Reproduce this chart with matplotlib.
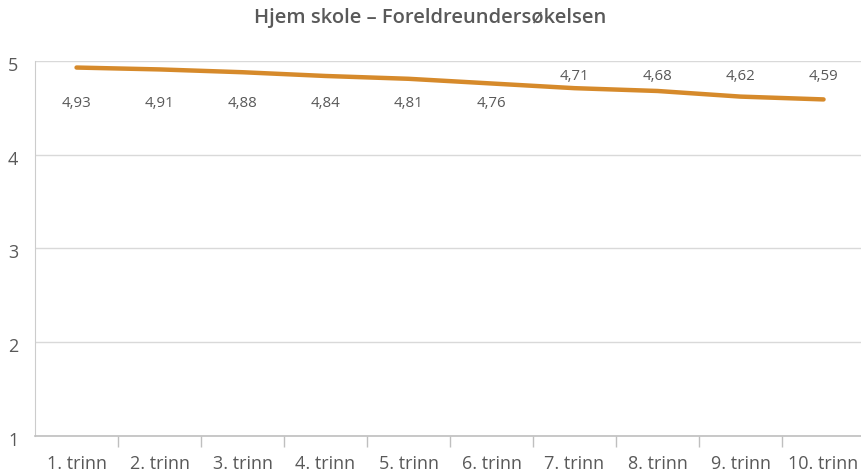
import matplotlib.pyplot as plt
import matplotlib.transforms as mtransforms

# Data
categories = ["1. trinn", "2. trinn", "3. trinn", "4. trinn", "5. trinn",
              "6. trinn", "7. trinn", "8. trinn", "9. trinn", "10. trinn"]
values = [4.93, 4.91, 4.88, 4.84, 4.81, 4.76, 4.71, 4.68, 4.62, 4.59]
label_above = [False, False, False, False, False, False, True, True, True, True]

title = "Hjem skole \u2013 Foreldreundersøkelsen"
line_color = "#d68a2b"
text_color = "#595959"

plt.rcParams["font.family"] = ["Open Sans", "DejaVu Sans"]

fig = plt.figure(figsize=(8.61, 4.72), dpi=100)
ax = fig.add_axes([0.0407, 0.0763, 0.964, 0.7945])

x = list(range(len(categories)))
ax.plot(x, values, color=line_color, linewidth=3.2, solid_capstyle="round", zorder=3)

# labels sit on two fixed rows, like in the source chart
for xi, v, above in zip(x, values, label_above):
    txt = f"{v:.2f}".replace(".", ",")
    ypos = 0.9573 if above else 0.8853
    ax.text(xi, ypos, txt, transform=ax.get_xaxis_transform(),
            ha="center", va="center", fontsize=10.8, color=text_color)

ax.set_xlim(-0.5, len(categories) - 0.5)
ax.set_ylim(1, 5)
ax.set_yticks([1, 2, 3, 4, 5])
ax.grid(axis="y", color="#d9d9d9", linewidth=1)
ax.set_axisbelow(True)

ax.set_xticks(x)
ax.set_xticklabels(categories)
ax.set_xticks([i + 0.5 for i in range(len(categories) - 1)], minor=True)
ax.tick_params(axis="x", which="major", length=0, pad=14, labelsize=13, labelcolor=text_color)
ax.tick_params(axis="x", which="minor", length=8, color="#bfbfbf", width=1)
ax.tick_params(axis="y", length=0, pad=12, labelsize=13, labelcolor=text_color)
# y labels sit a little below their gridlines
offset = mtransforms.ScaledTranslation(0, -5 / 100, fig.dpi_scale_trans)
for lbl in ax.get_yticklabels():
    lbl.set_verticalalignment("center")
    lbl.set_transform(lbl.get_transform() + offset)

ax.spines["top"].set_visible(False)
ax.spines["right"].set_visible(False)
ax.spines["left"].set_color("#cccccc")
ax.spines["bottom"].set_color("#bfbfbf")
ax.spines["bottom"].set_linewidth(1.2)

fig.text(0.5, 0.962, title, ha="center", va="center", fontsize=14.5,
         fontweight="semibold", color=text_color)

fig.savefig("out.png", dpi=100)
